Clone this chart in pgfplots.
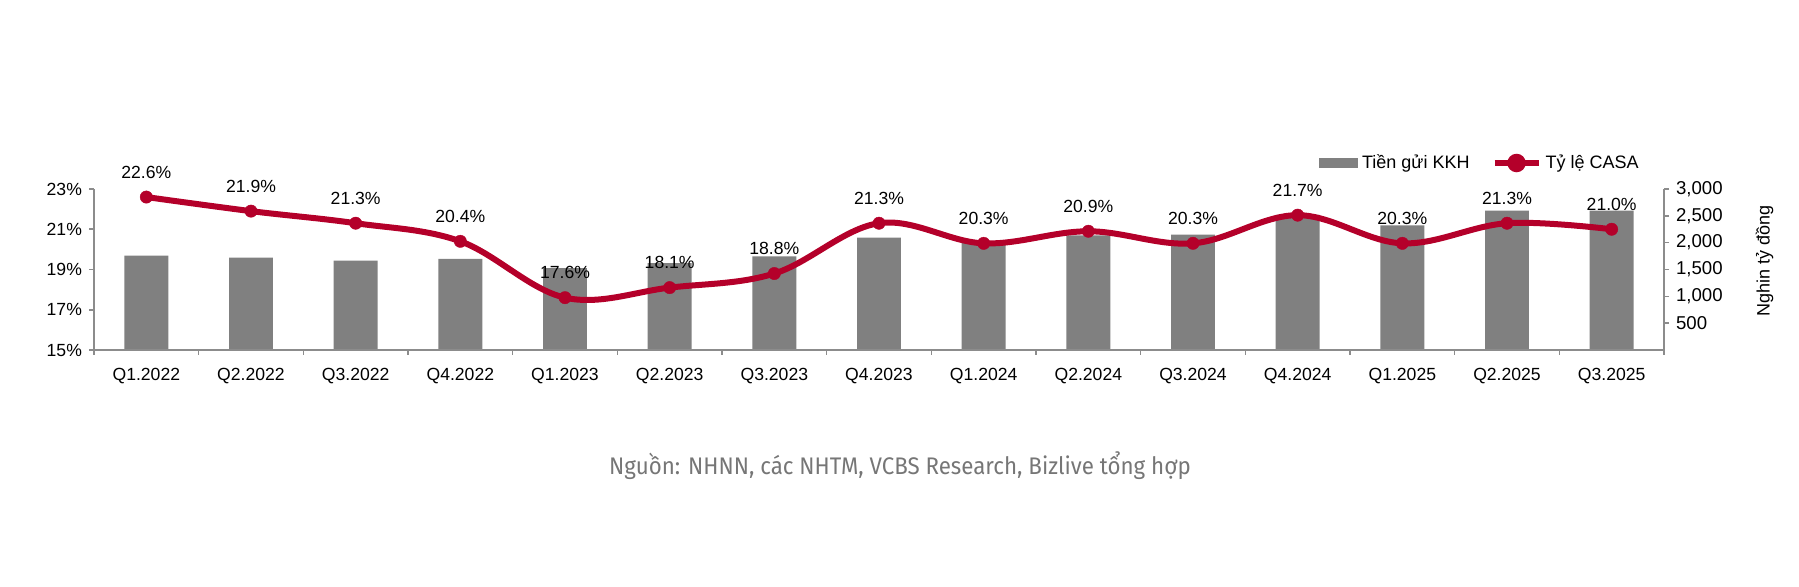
\documentclass[border=0pt]{standalone}
\usepackage{fontspec}
\setmainfont{Liberation Sans}
\newfontfamily\capfont[FakeStretch=0.93]{Fira Sans}
\usepackage{pgfplots}
\usepackage{pgfplotstable}
\pgfplotsset{compat=1.18}
\definecolor{casared}{RGB}{180,0,42}
\definecolor{bargray}{RGB}{128,128,128}
\definecolor{axisgray}{RGB}{140,140,140}
\definecolor{capgray}{RGB}{118,118,118}

\pgfplotstableread{
x bar casa
0 1757 22.6
1 1720 21.9
2 1665 21.3
3 1700 20.4
4 1525 17.6
5 1620 18.1
6 1745 18.8
7 2095 21.3
8 2010 20.3
9 2135 20.9
10 2150 20.3
11 2520 21.7
12 2320 20.3
13 2595 21.3
14 2595 21.0
}\data

\begin{document}
\begin{tikzpicture}
\pgfplotsset{
  common/.style={
    scale only axis, width=785pt, height=80.5pt,
    xmin=-0.5, xmax=14.5,
    /pgf/number format/assume math mode=true,
    axis line style={draw=axisgray, line width=0.8pt},
    tick style={draw=axisgray, line width=0.8pt},
    tick align=outside,
    major tick length=2.5pt,
    minor tick length=2.5pt,
  }
}
% bars (right axis)
\begin{axis}[common, name=bx,
  ymin=0, ymax=3000,
  axis x line=none,
  axis y line*=right,
  ytick={500,1000,1500,2000,2500,3000},
  scaled y ticks=false,
  yticklabel style={font=\fontsize{9.3}{10}\selectfont, /pgf/number format/1000 sep={,}},
  ylabel={Nghin tỷ đồng},
  ylabel style={at={(axis description cs:1.0640,0.55)}, anchor=center, font=\fontsize{9}{10}\selectfont},
]
\addplot[ybar, bar width=0.42, fill=bargray, draw=none] table[x=x,y=bar]{\data};
\end{axis}
% line (left axis)
\begin{axis}[common, name=lx,
  ymin=15, ymax=23,
  ytick={15,17,19,21,23},
  yticklabel={\pgfmathprintnumber{\tick}\%},
  yticklabel style={font=\fontsize{8.8}{10}\selectfont},
  axis x line*=bottom, axis y line*=left,
  xtick={0,...,14},
  xticklabels={Q1.2022,Q2.2022,Q3.2022,Q4.2022,Q1.2023,Q2.2023,Q3.2023,Q4.2023,Q1.2024,Q2.2024,Q3.2024,Q4.2024,Q1.2025,Q2.2025,Q3.2025},
  xticklabel style={font=\fontsize{8.8}{10}\selectfont, yshift=-3pt},
  x tick style={draw=none},
  minor xtick={-0.5,0.5,...,14.5},
  minor x tick style={draw=axisgray, line width=0.8pt},
  legend columns=2,
  legend style={draw=none, fill=none, at={(0.9866,1.1615)}, anchor=east,
    font=\fontsize{9}{10}\selectfont, inner sep=0pt,
    /tikz/every even column/.append style={column sep=9pt}},
]
\addlegendimage{legend image code/.code={\fill[bargray] (0pt,-2.25pt) rectangle (19pt,2.25pt);}}
\addlegendentry{Tiền gửi KKH}
\addplot[casared, line width=3pt, smooth, tension=0.6,
  mark=*, mark size=3.1pt, mark options={solid, fill=casared, draw=casared, line width=0.2pt},
  nodes near coords={\pgfmathprintnumber[fixed, fixed zerofill, precision=1]{\pgfplotspointmeta}\%},
  every node near coord/.append style={text=black, anchor=center, yshift=12.5pt, font=\fontsize{8.8}{10}\selectfont},
  legend image code/.code={\draw[casared, line width=3pt] (0pt,0pt) -- (22pt,0pt); \fill[casared] (11pt,0pt) circle (3.1pt);}
] table[x=x,y=casa]{\data};
\addlegendentry{Tỷ lệ CASA}
\end{axis}
\node[font=\capfont\fontsize{12}{14}\selectfont, text=capgray] at ([shift={(403pt,-58pt)}]lx.south west) {Nguồn: NHNN, các NHTM, VCBS Research, Bizlive tổng hợp};
\pgfresetboundingbox
\path ([shift={(-47pt,-118.5pt)}]lx.south west) rectangle ([shift={(67.5pt,94.5pt)}]lx.north east);
\end{tikzpicture}
\end{document}
